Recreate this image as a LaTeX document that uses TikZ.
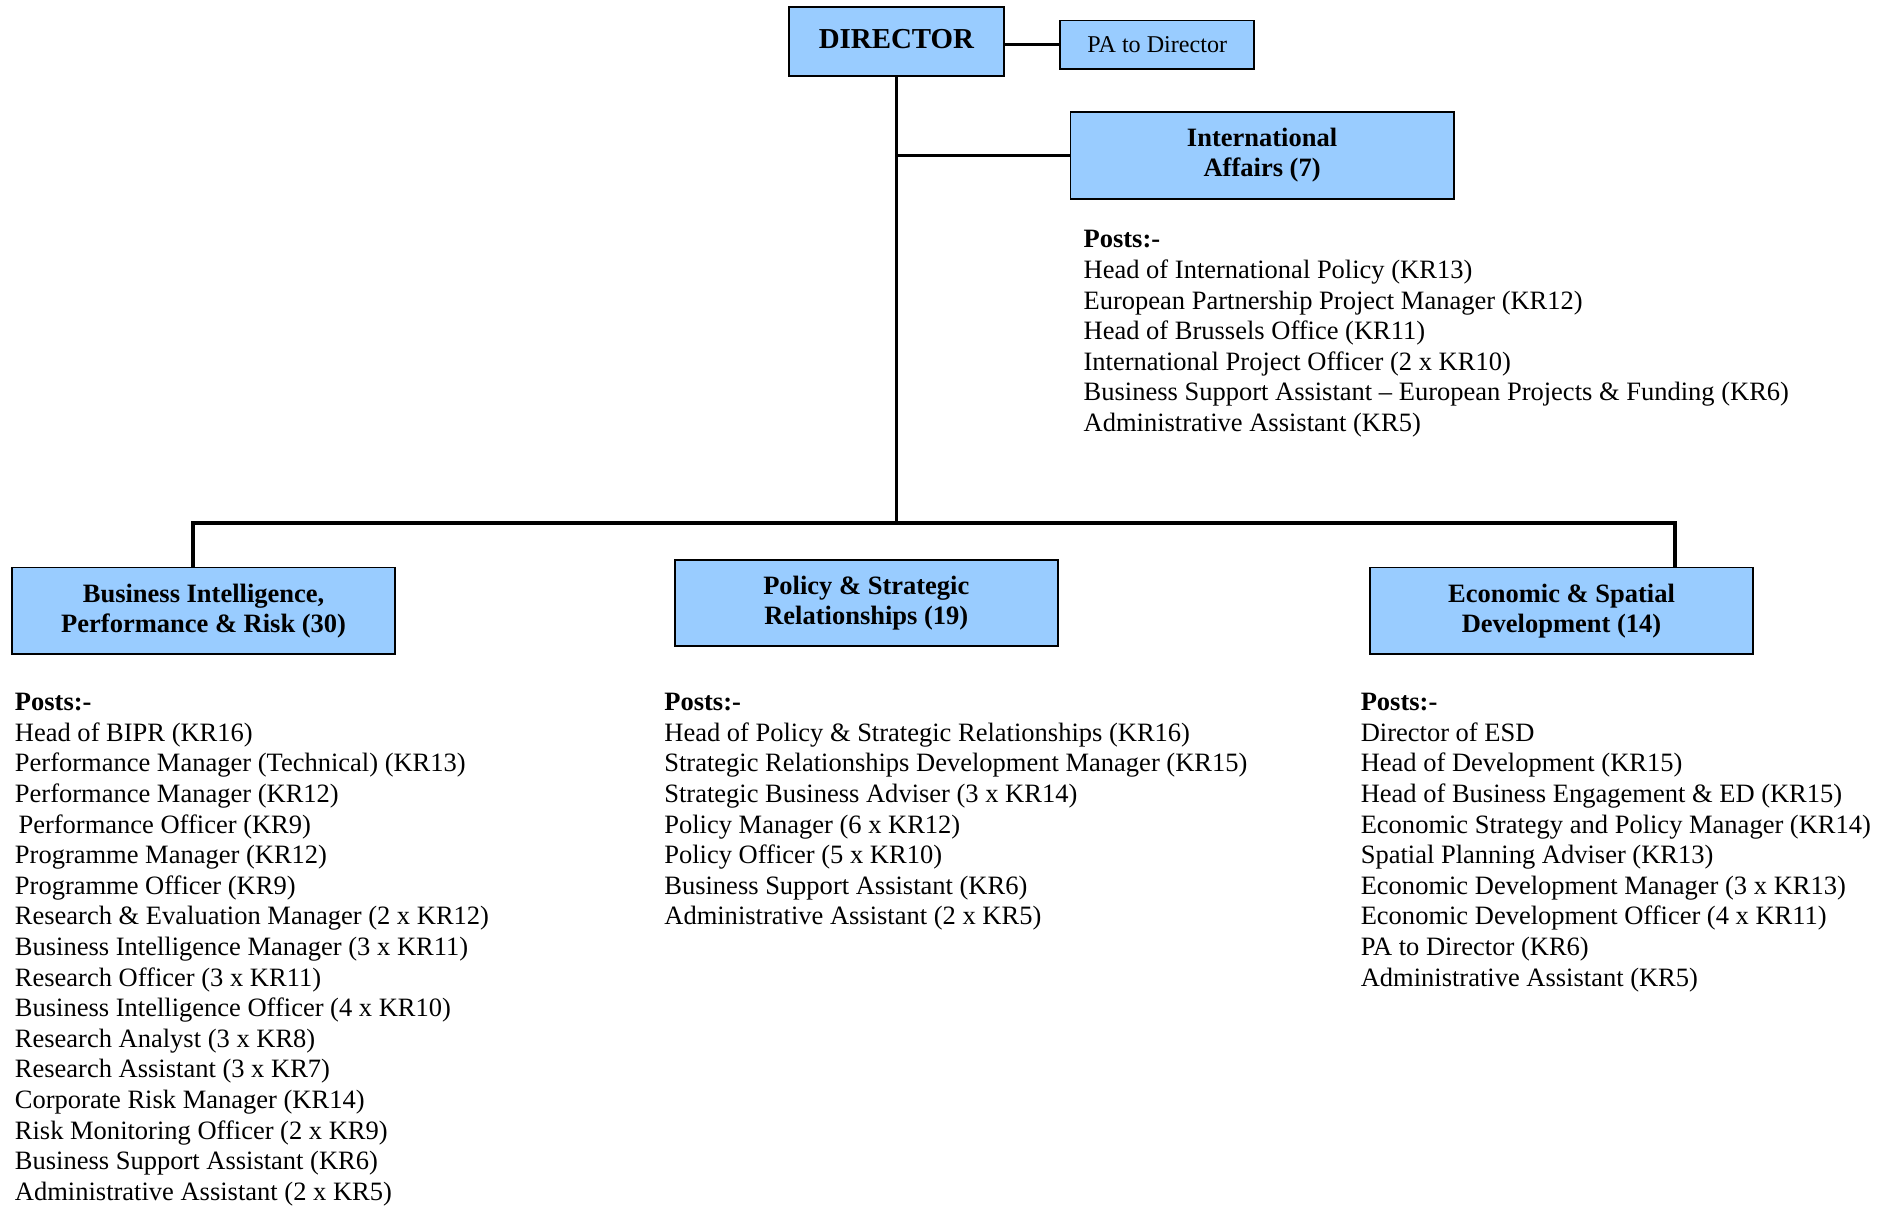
\documentclass[tikz,border=0pt]{standalone}
\usepackage{fontspec}
\setmainfont{Liberation Serif}
\usepackage{xcolor}
\usepackage{tikz}
\usetikzlibrary{calc}
\definecolor{boxblue}{HTML}{99CCFF}
\tikzset{
	unit/.style={draw,fill=boxblue,line width=0.8pt,inner sep=0pt,
	minimum width =159pt ,
	minimum height =36pt ,align=center,
	font=\fontsize{11}{12.5}\selectfont\bfseries},
	posts/.style={anchor=north west,inner sep=0pt,align=left,
	font=\fontsize{11}{12.7}\selectfont},
	link/.style={line width=1.5pt}
}

\begin{document}
\begin{tikzpicture}[x=0.5pt,y=-0.5pt]
	\useasboundingbox (0,0) rectangle (1567,1002);
	\node[unit,
	minimum width =89pt ,
	minimum height =28.5pt ,text depth=2.5pt,font=\fontsize{12}{14}\selectfont\bfseries] (dir) at(744,34.5){DIRECTOR};
	\node[unit,
	minimum width =80.5pt ,
	minimum height =20pt ,font=\fontsize{10}{12}\selectfont] (pa) at(960.5,37){PA to Director};
	\node[unit] (intl) at(1047.5,129){International\\Affairs (7)};
	\node[unit] (bipr) at(169,507){Business Intelligence,\\Performance \& Risk (30)};
	\node[unit] (psr) at(719,500.5){Policy \& Strategic\\Relationships (19)};
	\node[unit] (esd) at(1296,507){Economic \& Spatial\\Development (14)};
	\coordinate (busL) at(160,434);
	\coordinate (busR) at(1390,434);
	\node[posts] (intlposts) at(899,191){\textbf{Posts:-}\\
		Head of International Policy (KR13)\\
		European Partnership Project Manager (KR12)\\
		Head of Brussels Office (KR11)\\
		International Project Officer (2 x KR10)\\
		Business Support Assistant – European Projects \& Funding (KR6)\\
		Administrative Assistant (KR5)};
	\node[posts] (biprposts) at(12,575){\textbf{Posts:-}\\
		Head of BIPR (KR16)\\
		Performance Manager (Technical) (KR13)\\
		Performance Manager (KR12)\\
		\hspace{1.5pt}Performance Officer (KR9)\\
		Programme Manager (KR12)\\
		Programme Officer (KR9)\\
		Research \& Evaluation Manager (2 x KR12)\\
		Business Intelligence Manager (3 x KR11)\\
		Research Officer (3 x KR11)\\
		Business Intelligence Officer (4 x KR10)\\
		Research Analyst (3 x KR8)\\
		Research Assistant (3 x KR7)\\
		Corporate Risk Manager (KR14)\\
		Risk Monitoring Officer (2 x KR9)\\
		Business Support Assistant (KR6)\\
		Administrative Assistant (2 x KR5)};
	\node[posts] (psrposts) at(551,575){\textbf{Posts:-}\\
		Head of Policy \& Strategic Relationships (KR16)\\
		Strategic Relationships Development Manager (KR15)\\
		Strategic Business Adviser (3 x KR14)\\
		Policy Manager (6 x KR12)\\
		Policy Officer (5 x KR10)\\
		Business Support Assistant (KR6)\\
		Administrative Assistant (2 x KR5)};
	\node[posts] (esdposts) at(1129,575){\textbf{Posts:-}\\
		Director of ESD\\
		Head of Development (KR15)\\
		Head of Business Engagement \& ED (KR15)\\
		Economic Strategy and Policy Manager (KR14)\\
		Spatial Planning Adviser (KR13)\\
		Economic Development Manager (3 x KR13)\\
		Economic Development Officer (4 x KR11)\\
		PA to Director (KR6)\\
		Administrative Assistant (KR5)};
	\draw[link] (pa.west) --(pa.west -| dir.east);
	\draw[link] (dir.south) --(dir.south |- busL);
	\draw[link] (intl.west) --(intl.west -| dir.south);
	\draw[link] (bipr.north -| busL) --(busL) --(busR) --(busR |- esd.north);
\end{tikzpicture}
\end{document}
